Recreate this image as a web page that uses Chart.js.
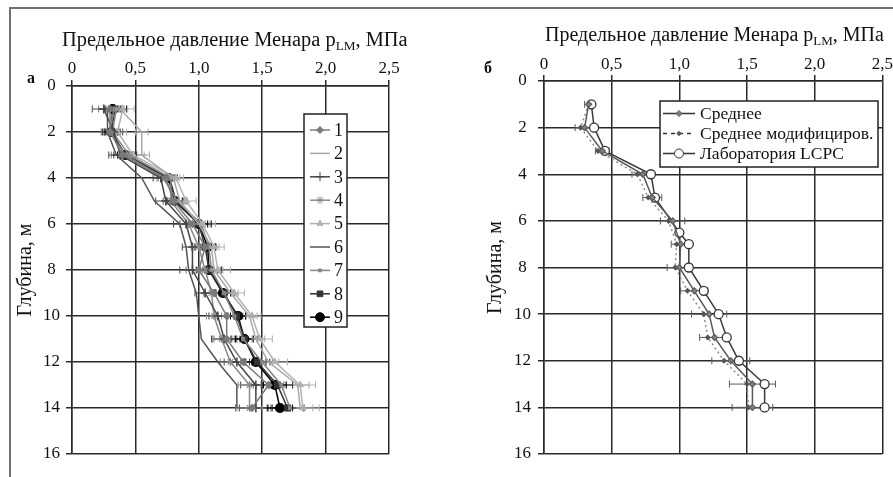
<!DOCTYPE html>
<html>
<head>
<meta charset="utf-8">
<script src="https://cdn.jsdelivr.net/npm/chart.js@4/dist/chart.umd.min.js"></script>
<style>
  body { margin: 0; background: #fff; font-family: "Liberation Serif", serif; }
  #wrap { position: relative; width: 893px; height: 477px; overflow: hidden; background: #fff; }
  canvas { position: absolute; top: 0; }
  #frame { position: absolute; left: 9px; top: 7px; width: 900px; height: 500px;
           border-top: 2px solid #707070; border-left: 2px solid #707070; }
  .ttl { position: absolute; font-size: 20px; color: #111; white-space: nowrap; line-height: 22px;
         transform-origin: left center; }
  .ttl sub { font-size: 13px; vertical-align: -4px; line-height: 0; }
  .lbl { position: absolute; font-size: 16px; font-weight: bold; color: #111; }
</style>
</head>
<body>
<div id="wrap">
  <div id="frame"></div>
  <canvas id="chart-a" width="445" height="477" style="left:0"></canvas>
  <canvas id="chart-b" width="448" height="477" style="left:445px"></canvas>
  <div class="ttl" style="left:62px; top:28px; transform: scaleX(1.02)">Предельное давление Менара p<sub>LM</sub>, МПа</div>
  <div class="ttl" style="left:545px; top:23px">Предельное давление Менара p<sub>LM</sub>, МПа</div>
  <div class="lbl" style="left:27px; top:69px">а</div>
  <div class="lbl" style="left:484px; top:59px">б</div>
</div>
<script>
"use strict";
// tick values and labels (decimal comma)
const xTickValues = [0, 0.5, 1, 1.5, 2, 2.5];
const xTickLabels = ["0", "0,5", "1,0", "1,5", "2,0", "2,5"];
const yTickValues = [0, 2, 4, 6, 8, 10, 12, 14, 16];
const yTickLabels = ["0", "2", "4", "6", "8", "10", "12", "14", "16"];

// panel a: depth, m -> p_LM, MPa for tests 1..9
const depthsA = [1, 2, 3, 4, 5, 6, 7, 8, 9, 10, 11, 12, 13, 14];
const serie1 = [0.30, 0.30, 0.40, 0.74, 0.80, 0.95, 1.05, 1.00, 1.12, 1.22, 1.22, 1.35, 1.55, 1.42];
const serie2 = [0.38, 0.55, 0.55, 0.80, 0.85, 1.00, 1.10, 1.12, 1.25, 1.40, 1.45, 1.55, 1.78, 1.80];
const serie3 = [0.25, 0.33, 0.38, 0.70, 0.74, 0.90, 0.95, 0.95, 1.05, 1.15, 1.20, 1.30, 1.45, 1.45];
const serie4 = [0.35, 0.32, 0.45, 0.78, 0.78, 0.92, 1.00, 1.05, 1.10, 1.12, 1.18, 1.25, 1.40, 1.40];
const serie5 = [0.40, 0.36, 0.48, 0.82, 0.90, 1.03, 1.12, 1.15, 1.28, 1.42, 1.48, 1.60, 1.80, 1.82];
const serie6 = [0.28, 0.28, 0.35, 0.55, 0.65, 0.85, 0.90, 0.92, 0.98, 1.00, 1.02, 1.15, 1.30, 1.30];
const serie7 = [0.33, 0.30, 0.42, 0.72, 0.83, 1.02, 1.08, 1.10, 1.20, 1.28, 1.35, 1.50, 1.65, 1.72];
const serie8 = [0.34, 0.31, 0.42, 0.77, 0.82, 1.00, 1.05, 1.08, 1.20, 1.30, 1.36, 1.46, 1.62, 1.70];
const serie9 = [0.32, 0.31, 0.42, 0.76, 0.81, 1.00, 1.07, 1.08, 1.19, 1.31, 1.36, 1.45, 1.60, 1.64];
const errA = [0.09, 0.07, 0.09, 0.06, 0.08, 0.10, 0.08, 0.10, 0.08, 0.07, 0.10, 0.10, 0.12, 0.13];
const errA2 = [0.06, 0.05, 0.06, 0.05, 0.06, 0.07, 0.06, 0.07, 0.06, 0.06, 0.07, 0.08, 0.09, 0.10];
const namesA = ["1", "2", "3", "4", "5", "6", "7", "8", "9"];

// panel b
const depthsB = [1, 2, 3, 4, 5, 6, 7, 8, 9, 10, 11, 12, 13, 14];
const meanB = [0.33, 0.30, 0.43, 0.73, 0.80, 0.95, 1.01, 1.00, 1.11, 1.22, 1.26, 1.38, 1.54, 1.54];
const errMeanB = [0.03, 0.07, 0.05, 0.08, 0.07, 0.09, 0.07, 0.09, 0.10, 0.13, 0.11, 0.14, 0.17, 0.15];
const modB = [0.33, 0.27, 0.40, 0.69, 0.77, 0.92, 0.98, 0.97, 1.06, 1.18, 1.21, 1.33, 1.50, 1.51];
const lcpcDepths = [1, 2, 3, 4, 5, 6.5, 7, 8, 9, 10, 11, 12, 13, 14];
const lcpcB = [0.35, 0.37, 0.45, 0.79, 0.82, 1.00, 1.07, 1.07, 1.18, 1.29, 1.35, 1.44, 1.63, 1.63];
const namesB = ["Среднее", "Среднее модифициров.", "Лаборатория LCPC"];

const FONT = "Liberation Serif";

function toPoints(xs, ys) {
    return xs.map((d, i) => ({ x: ys[i], y: d }));
}

function labelFor(values, labels, v) {
    let best = 0;
    values.forEach((t, i) => { if (Math.abs(t - v) < Math.abs(values[best] - v)) best = i; });
    return labels[best];
}

const errorBars = {
    id: "errorBars",
    beforeDatasetsDraw(chart) {
        const ctx = chart.ctx;
        const sx = chart.scales.x, sy = chart.scales.y;
        chart.data.datasets.forEach(ds => {
            if (!ds.errors) return;
            ctx.save();
            ctx.strokeStyle = ds.borderColor;
            ctx.lineWidth = 1;
            ds.data.forEach((p, j) => {
                const e = ds.errors[j];
                const x1 = sx.getPixelForValue(p.x - e);
                const x2 = sx.getPixelForValue(p.x + e);
                const y = sy.getPixelForValue(p.y);
                ctx.beginPath();
                ctx.moveTo(x1, y); ctx.lineTo(x2, y);
                ctx.moveTo(x1, y - 3.5); ctx.lineTo(x1, y + 3.5);
                ctx.moveTo(x2, y - 3.5); ctx.lineTo(x2, y + 3.5);
                ctx.stroke();
            });
            ctx.restore();
        });
    }
};

function drawMarker(ctx, ds, x, y) {
    if (!ds.pointStyle || !ds.pointRadius) return;
    Chart.helpers.drawPoint(ctx, {
        pointStyle: ds.pointStyle,
        radius: ds.pointRadius,
        rotation: 0,
        borderWidth: ds.pointBorderWidth || 1
    }, x, y);
}

const boxLegend = {
    id: "boxLegend",
    afterDraw(chart, args, opts) {
        const ctx = chart.ctx;
        const a = chart.chartArea;
        const bx = a.left + opts.left, by = a.top + opts.top;
        ctx.save();
        ctx.fillStyle = "#fff";
        ctx.fillRect(bx, by, opts.width, opts.height);
        ctx.strokeStyle = "#222";
        ctx.lineWidth = 1.5;
        ctx.strokeRect(bx, by, opts.width, opts.height);
        ctx.font = opts.fontSize + "px '" + FONT + "'";
        ctx.textBaseline = "middle";
        chart.data.datasets.forEach((ds, i) => {
            const y = by + opts.firstRow + i * opts.rowStep;
            const x1 = bx + opts.lineX1, x2 = bx + opts.lineX2;
            ctx.strokeStyle = opts.sampleColor || ds.borderColor;
            ctx.lineWidth = ds.borderWidth;
            ctx.setLineDash(ds.borderDash ? opts.legendDash : []);
            ctx.beginPath();
            ctx.moveTo(x1, y); ctx.lineTo(x2, y);
            ctx.stroke();
            ctx.setLineDash([]);
            ctx.fillStyle = ds.pointBackgroundColor;
            ctx.strokeStyle = ds.pointBorderColor;
            ctx.lineWidth = 1;
            drawMarker(ctx, ds, (x1 + x2) / 2, y);
            ctx.fillStyle = "#111";
            ctx.fillText(ds.label, bx + opts.textX, y + 1);
        });
        ctx.restore();
    }
};

function axes(yAxisWidth, xAxisHeight, yTitlePad, xLabelPad, yLabelPad) {
    const grid = { color: "#2a2a2a", lineWidth: 1.5, tickLength: 6, tickColor: "#2a2a2a" };
    return {
        x: {
            type: "linear", position: "top", min: 0, max: 2.5,
            grid: grid,
            border: { color: "#2a2a2a", width: 1.5 },
            ticks: {
                stepSize: 0.5, padding: xLabelPad, color: "#111", maxRotation: 0,
                font: { family: FONT, size: 17 },
                callback: v => labelFor(xTickValues, xTickLabels, v)
            },
            afterFit: s => { s.height = xAxisHeight; }
        },
        y: {
            type: "linear", reverse: true, min: 0, max: 16,
            grid: grid,
            border: { color: "#2a2a2a", width: 1.5 },
            ticks: {
                stepSize: 2, padding: yLabelPad, color: "#111", crossAlign: "center",
                font: { family: FONT, size: 17 },
                callback: v => labelFor(yTickValues, yTickLabels, v)
            },
            title: {
                display: true, text: "Глубина, м", color: "#111",
                font: { family: FONT, size: 20 },
                padding: { top: yTitlePad, bottom: 0 }
            },
            afterFit: s => { s.width = yAxisWidth; }
        }
    };
}

function lineSet(label, depths, values, color, style, radius, extra) {
    return Object.assign({
        label: label,
        data: toPoints(depths, values),
        showLine: true,
        borderColor: color,
        borderWidth: 1.5,
        pointStyle: style,
        pointRadius: radius,
        pointBackgroundColor: color,
        pointBorderColor: color,
        pointBorderWidth: 1.2
    }, extra || {});
}

function createCharts() {
    const ctxA = document.getElementById("chart-a").getContext("2d");
    new Chart(ctxA, {
        type: "scatter",
        data: {
            datasets: [
                lineSet(namesA[0], depthsA, serie1, "#7a7a7a", "rectRot", 3.5, { errors: errA }),
                lineSet(namesA[1], depthsA, serie2, "#a8a8a8", "line", 4.5, { errors: errA2 }),
                lineSet(namesA[2], depthsA, serie3, "#454545", "cross", 4.5, { errors: errA, pointBorderWidth: 1.5 }),
                lineSet(namesA[3], depthsA, serie4, "#8a8a8a", "star", 4, { errors: errA2 }),
                lineSet(namesA[4], depthsA, serie5, "#b2b2b2", "triangle", 3.5, { errors: errA }),
                lineSet(namesA[5], depthsA, serie6, "#555555", false, 0, {}),
                lineSet(namesA[6], depthsA, serie7, "#858585", "rect", 2, { errors: errA2 }),
                lineSet(namesA[7], depthsA, serie8, "#333333", "rect", 4, { errors: errA }),
                lineSet(namesA[8], depthsA, serie9, "#000000", "circle", 4.5, { errors: errA2 })
            ]
        },
        options: {
            animation: false,
            responsive: false,
            layout: { padding: { left: 0, right: 56, top: 0, bottom: 23 } },
            scales: axes(72, 86, 14, 1, 6),
            plugins: {
                legend: { display: false },
                tooltip: { enabled: false },
                boxLegend: {
                    left: 232, top: 28, width: 43, height: 213,
                    firstRow: 16, rowStep: 23.4,
                    lineX1: 6, lineX2: 26, textX: 30, fontSize: 18
                }
            }
        },
        plugins: [errorBars, boxLegend]
    });

    const ctxB = document.getElementById("chart-b").getContext("2d");
    new Chart(ctxB, {
        type: "scatter",
        data: {
            datasets: [
                lineSet(namesB[0], depthsB, meanB, "#5a5a5a", "rectRot", 3, { errors: errMeanB, pointBackgroundColor: "#808080" }),
                lineSet(namesB[1], depthsB, modB, "#8c8c8c", "rectRot", 2.2, { borderDash: [2, 3], pointBackgroundColor: "#555", pointBorderColor: "#555" }),
                lineSet(namesB[2], lcpcDepths, lcpcB, "#3a3a3a", "circle", 4.5, { pointBackgroundColor: "#fff", pointBorderColor: "#333", pointBorderWidth: 1.3 })
            ]
        },
        options: {
            animation: false,
            responsive: false,
            layout: { padding: { left: 0, right: 10, top: 0, bottom: 23 } },
            scales: axes(99, 81, 39, 0, 7),
            plugins: {
                legend: { display: false },
                tooltip: { enabled: false },
                boxLegend: {
                    left: 116, top: 20, width: 218, height: 66,
                    firstRow: 12.5, rowStep: 20,
                    lineX1: 3, lineX2: 35, textX: 40, fontSize: 17.5,
                    sampleColor: "#333", legendDash: [4, 4]
                }
            }
        },
        plugins: [errorBars, boxLegend]
    });
}

document.addEventListener("DOMContentLoaded", createCharts);
</script>
</body>
</html>
